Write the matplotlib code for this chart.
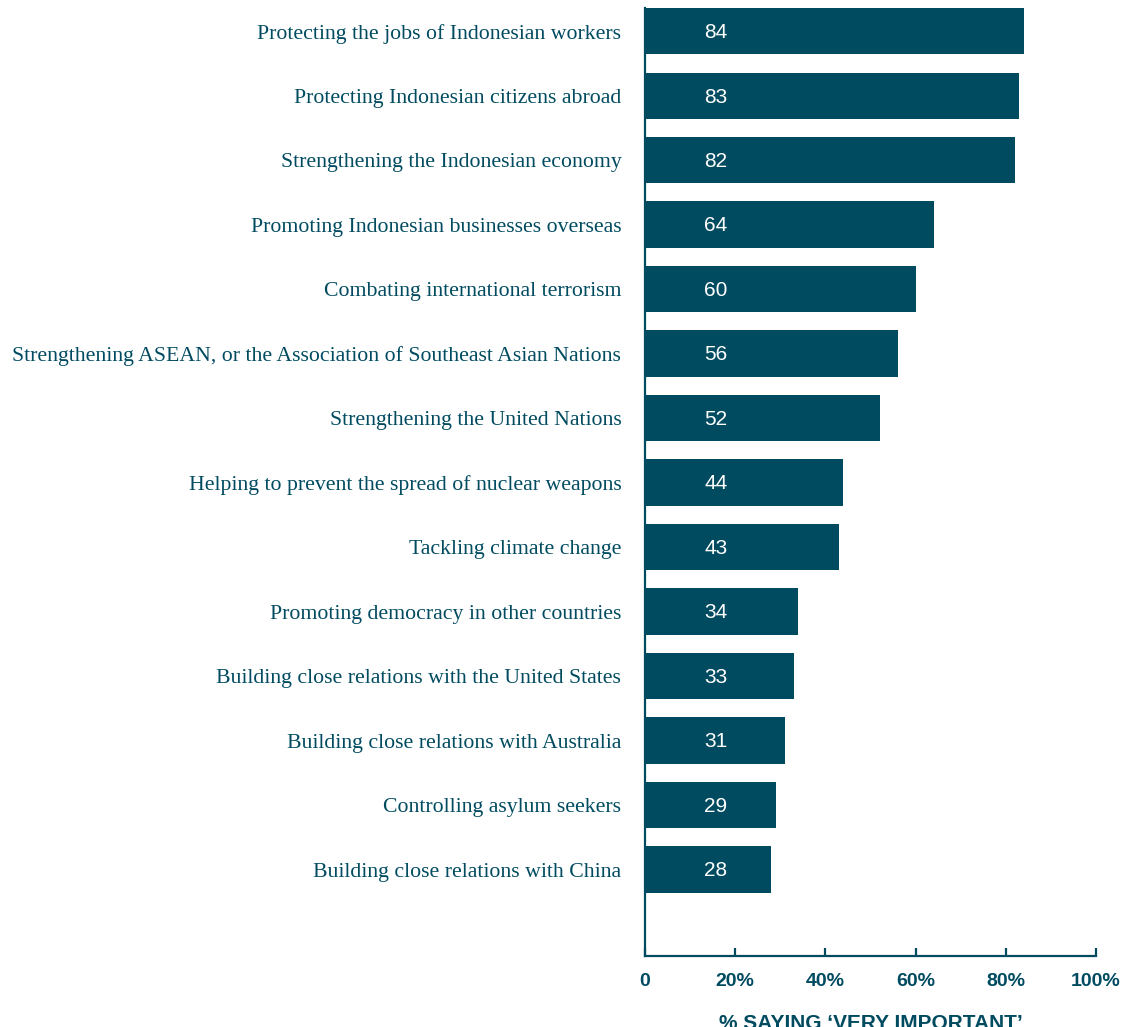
import matplotlib.pyplot as plt

# survey results, top to bottom
issues = [
    "Protecting the jobs of Indonesian workers",
    "Protecting Indonesian citizens abroad",
    "Strengthening the Indonesian economy",
    "Promoting Indonesian businesses overseas",
    "Combating international terrorism",
    "Strengthening ASEAN, or the Association of Southeast Asian Nations",
    "Strengthening the United Nations",
    "Helping to prevent the spread of nuclear weapons",
    "Tackling climate change",
    "Promoting democracy in other countries",
    "Building close relations with the United States",
    "Building close relations with Australia",
    "Controlling asylum seekers",
    "Building close relations with China",
]
very_important = [84, 83, 82, 64, 60, 56, 52, 44, 43, 34, 33, 31, 29, 28]
xticks = [0, 20, 40, 60, 80, 100]
xtick_labels = ["0", "20%", "40%", "60%", "80%", "100%"]

teal = "#004b60"

fig = plt.figure(figsize=(11.23, 10.27), dpi=100)
ax = fig.add_axes([0.5743, 0.0691, 0.4017, 0.9231])

ypos = list(range(len(issues)))
ax.barh(ypos, very_important, height=0.72, color=teal, zorder=2)

for y, v in zip(ypos, very_important):
    ax.text(15.7, y + 0.02, str(v), color="white", fontsize=15,
            family="Liberation Sans", ha="center", va="center", zorder=3)

ax.set_yticks(ypos)
ax.set_yticklabels(issues, family="Liberation Serif", fontsize=15.7, color=teal)
ax.tick_params(axis="y", length=0, pad=17)

ax.set_xticks(xticks)
ax.set_xticklabels(xtick_labels, family="Liberation Sans", fontweight="bold",
                   fontsize=14, color=teal)
ax.tick_params(axis="x", direction="in", length=6, width=1.6, color=teal, pad=12.5)

ax.set_xlim(0, 100)
ax.set_ylim(14.34, -0.36)

for side in ["top", "right"]:
    ax.spines[side].set_visible(False)
for side in ["left", "bottom"]:
    ax.spines[side].set_color(teal)
    ax.spines[side].set_linewidth(1.6)

ax.set_xlabel("% SAYING \u2018VERY IMPORTANT\u2019", family="Liberation Sans",
              fontweight="bold", fontsize=15, color=teal, labelpad=17)

fig.savefig("out.png", dpi=100)
